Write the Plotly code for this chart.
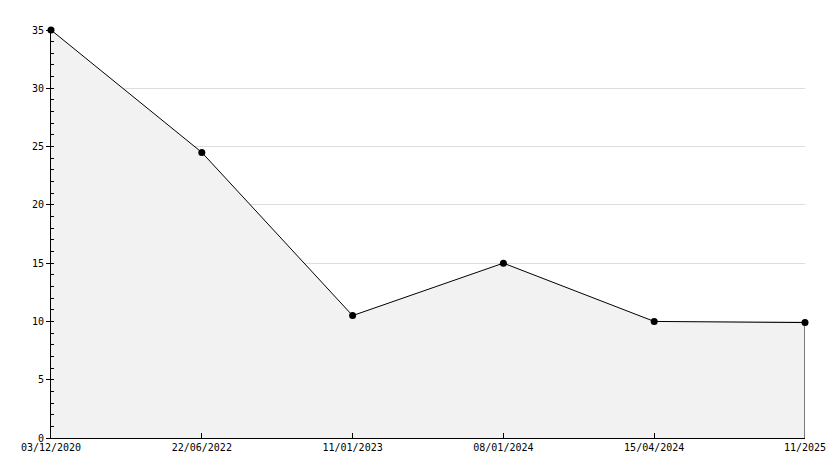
import plotly.graph_objects as go

datas = ["03/12/2020", "22/06/2022", "11/01/2023", "08/01/2024", "15/04/2024", "11/2025"]
valores = [35, 24.5, 10.5, 15, 10, 9.9]

fig = go.Figure()
fig.add_trace(go.Scatter(
    x=datas, y=valores,
    mode="lines+markers",
    fill="tozeroy",
    fillcolor="#f2f2f2",
    line=dict(color="black", width=1),
    marker=dict(color="black", size=7, symbol="circle"),
    cliponaxis=False,
    showlegend=False,
))
# borda direita da área preenchida
fig.add_trace(go.Scatter(
    x=[datas[-1], datas[-1]], y=[0, valores[-1]],
    mode="lines", line=dict(color="black", width=1),
    showlegend=False, hoverinfo="skip",
))

# a página tem 8px de margem no body
fig.update_layout(
    width=834, height=468,
    margin=dict(l=43, r=37, t=22, b=38),
    paper_bgcolor="white",
    plot_bgcolor="white",
    font=dict(family="DejaVu Sans Mono", size=10, color="black"),
)
fig.update_xaxes(
    type="category",
    range=[0, len(datas) - 1],
    showgrid=False,
    showline=True, linecolor="black", linewidth=1,
    ticks="inside", ticklen=5, tickcolor="black",
    zeroline=False,
)
fig.update_yaxes(
    range=[0, 35],
    dtick=5,
    showgrid=True, gridcolor="#dddddd", gridwidth=1,
    showline=True, linecolor="black", linewidth=1,
    ticks="outside", ticklen=4, tickcolor="black",
    minor=dict(dtick=1, ticks="inside", ticklen=3, tickcolor="black", showgrid=False),
    zeroline=False,
)

fig.write_html("out.html")
